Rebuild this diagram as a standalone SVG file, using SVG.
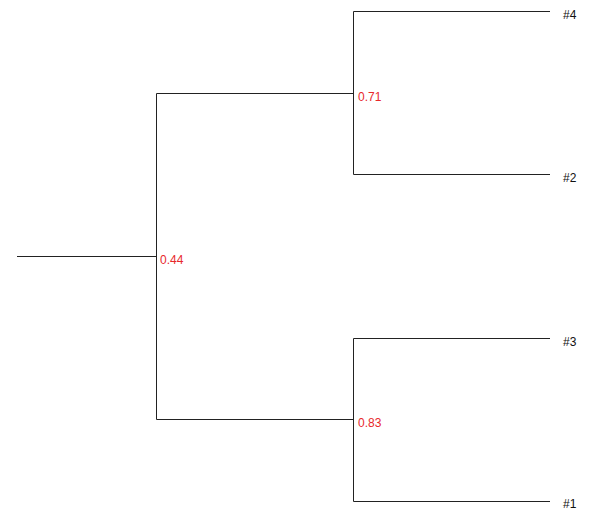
<svg xmlns="http://www.w3.org/2000/svg" width="607" height="510" viewBox="0 0 607 510">
<style>
.e{stroke:#222;stroke-width:1;fill:none}
.n{font-family:"Liberation Sans",Arial,sans-serif;font-size:12px;fill:#e8282b}
.l{font-family:"Liberation Sans",Arial,sans-serif;font-size:12px;fill:#111}
</style>
<rect width="607" height="510" fill="#fff"/>
<g id="connectors">
<path class="e" d="M17 256.5H156.5"/>
<path class="e" d="M353.5 93.5H156.5V419.5H353.5"/>
<path class="e" d="M550 11.5H353.5V174.5H550"/>
<path class="e" d="M550 338.5H353.5V501.5H550"/>
</g>
<g id="n044"><text class="n" x="160" y="264">0.44</text></g>
<g id="n071"><text class="n" x="358" y="101">0.71</text></g>
<g id="n083"><text class="n" x="358" y="427">0.83</text></g>
<g id="leaf4"><text class="l" x="563" y="19">#4</text></g>
<g id="leaf2"><text class="l" x="563" y="182">#2</text></g>
<g id="leaf3"><text class="l" x="563" y="346">#3</text></g>
<g id="leaf1"><text class="l" x="563" y="508">#1</text></g>
</svg>
